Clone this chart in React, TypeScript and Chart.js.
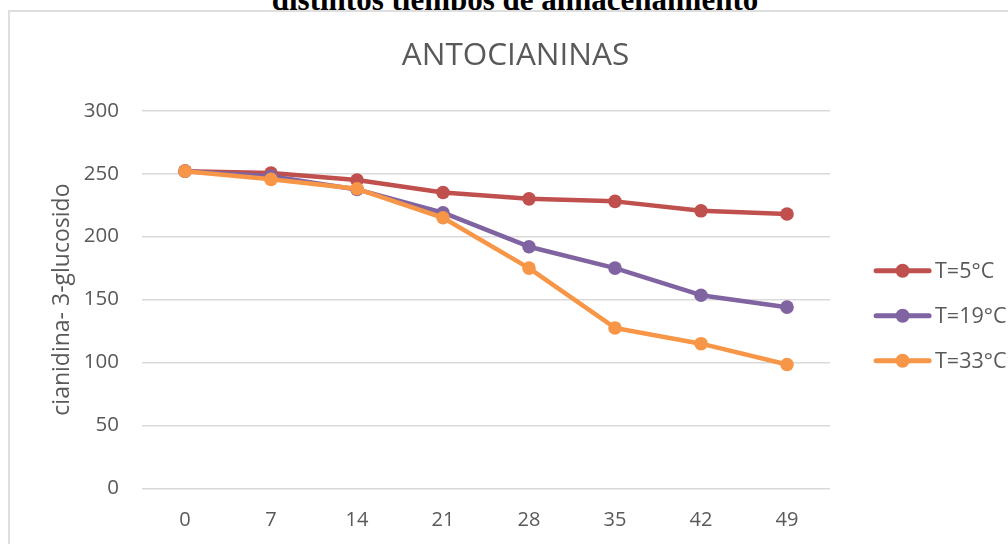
import React, { useEffect, useRef } from "react";
import { Chart, registerables } from "chart.js";

Chart.register(...registerables);

const days = ["0", "7", "14", "21", "28", "35", "42", "49"];
const seriesNames = ["T=5°C", "T=19°C", "T=33°C"];
const t5 = [252, 250.5, 245, 235, 230, 228, 220.5, 218];
const t19 = [252, 248, 237.5, 219, 192, 175, 153.5, 144];
const t33 = [252, 245.5, 238, 215, 175, 127.5, 115, 98.5];
const seriesColors = ["#C0504D", "#8064A2", "#F79646"];
const chartTitle = "ANTOCIANINAS";
const yTitle = "cianidina- 3-glucosido";
const pageHeading = "distintos tiempos de almacenamiento";
const yMin = 0;
const yMax = 300;
const yStep = 50;

const textColor = "#595959";
const fontFamily = "'Open Sans', 'Liberation Sans', sans-serif";

const sideLegend = {
  id: "sideLegend",
  afterDraw(chart: any) {
    const ctx = chart.ctx as CanvasRenderingContext2D;
    const area = chart.chartArea;
    const x0 = area.right + 43.6;
    const y0 = area.top + 160;
    chart.data.datasets.forEach((ds: any, i: number) => {
      const y = y0 + i * 45;
      ctx.save();
      ctx.strokeStyle = ds.borderColor;
      ctx.lineWidth = 5;
      ctx.lineCap = "round";
      ctx.beginPath();
      ctx.moveTo(x0 + 2.5, y);
      ctx.lineTo(x0 + 55.5, y);
      ctx.stroke();
      ctx.fillStyle = ds.borderColor;
      ctx.beginPath();
      ctx.arc(x0 + 29, y, 7, 0, Math.PI * 2);
      ctx.fill();
      ctx.font = `21.5px ${fontFamily}`;
      ctx.fillStyle = textColor;
      ctx.textBaseline = "middle";
      ctx.textAlign = "left";
      ctx.fillText(ds.label, x0 + 61.4, y + 1);
      ctx.restore();
    });
  },
};

export default function App() {
  const ref = useRef<HTMLCanvasElement>(null);

  useEffect(() => {
    const values = [t5, t19, t33];
    const chart = new Chart(ref.current as HTMLCanvasElement, {
      type: "line",
      data: {
        labels: days,
        datasets: values.map((v, i) => ({
          label: seriesNames[i],
          data: v,
          borderColor: seriesColors[i],
          backgroundColor: seriesColors[i],
          pointBackgroundColor: seriesColors[i],
          pointBorderColor: seriesColors[i],
          pointBorderWidth: 0,
          pointRadius: 6.8,
          pointHoverRadius: 6.8,
          borderWidth: 4.5,
          borderCapStyle: "round",
          borderJoinStyle: "round",
          tension: 0,
          order: 3 - i,
        })),
      },
      options: {
        responsive: false,
        animation: false,
        devicePixelRatio: 1,
        events: [],
        layout: { padding: { left: 13, right: 0, top: 0, bottom: 0 } },
        plugins: {
          legend: { display: false },
          tooltip: { enabled: false },
          title: {
            display: true,
            text: chartTitle,
            color: textColor,
            font: { family: fontFamily, size: 31.5, weight: "normal" },
            padding: { top: 25.1, bottom: 35.8 },
          },
        },
        scales: {
          x: {
            offset: true,
            grid: { display: false, drawTicks: false },
            border: { display: false },
            ticks: {
              color: textColor,
              font: { family: fontFamily, size: 20 },
              padding: 19.5,
            },
            afterFit: (s: any) => {
              s.height = 55.5;
            },
          },
          y: {
            min: yMin,
            max: yMax,
            ticks: {
              stepSize: yStep,
              padding: 23,
              color: textColor,
              font: { family: fontFamily, size: 20.5 },
            },
            grid: { color: "#d9d9d9", lineWidth: 1.5, drawTicks: false },
            border: { display: false },
            title: {
              display: true,
              text: yTitle,
              color: textColor,
              font: { family: fontFamily, size: 23 },
              padding: { top: 25.2, bottom: 0 },
            },
            afterFit: (s: any) => {
              s.width = 119;
            },
          },
          legendSpace: {
            type: "linear",
            position: "right",
            display: true,
            grid: { display: false, drawTicks: false },
            border: { display: false },
            ticks: { display: false },
            afterFit: (s: any) => {
              s.width = 178;
            },
          },
        },
      } as any,
      plugins: [sideLegend],
    });
    return () => chart.destroy();
  }, []);

  return (
    <div
      style={{
        position: "fixed",
        left: 0,
        top: 0,
        width: 1008,
        height: 544,
        overflow: "hidden",
        background: "#fff",
      }}
    >
      <div
        style={{
          position: "absolute",
          left: 11,
          top: -16,
          width: 1008,
          textAlign: "center",
          fontFamily: "'Liberation Serif', 'Times New Roman', serif",
          fontWeight: "bold",
          fontSize: 31,
          lineHeight: "32px",
          color: "#000",
          whiteSpace: "nowrap",
        }}
      >
        {pageHeading}
      </div>
      <div
        style={{
          position: "absolute",
          left: 8,
          top: 10,
          width: 1100,
          height: 600,
          borderLeft: "2px solid #dedede",
          borderTop: "2px solid #dedede",
          background: "#fff",
        }}
      >
        <canvas ref={ref} width={998} height={532} style={{ display: "block" }} />
      </div>
    </div>
  );
}
